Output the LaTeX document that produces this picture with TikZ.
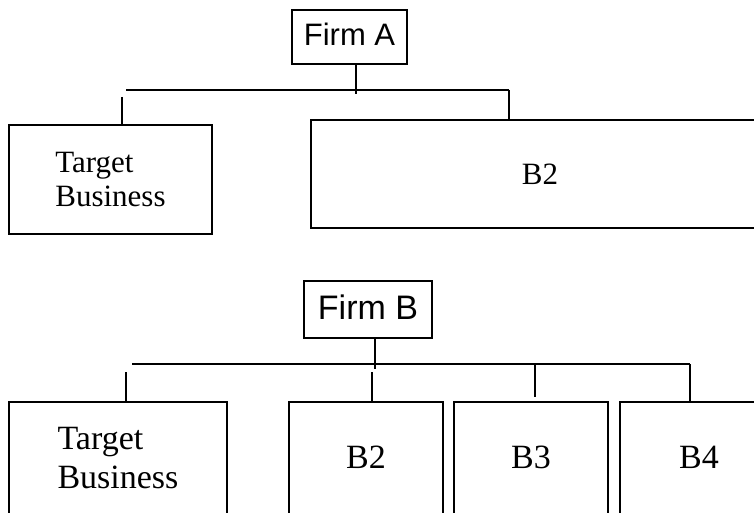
\documentclass[tikz,border=0pt]{standalone}
\usepackage{fontspec}
\setmainfont{Liberation Serif}
\newfontfamily\firmfont{Liberation Sans}
\usetikzlibrary{positioning,calc}

\begin{document}
\begin{tikzpicture}[x=1pt,y=-1pt]

\tikzstyle{cell} = [rectangle, draw=black, line width=2pt, inner sep=0pt, align=left]
\tikzstyle{firm} = [cell, font=\firmfont, text depth=6pt]
\tikzstyle{link} = [line width=2pt]

\useasboundingbox (0,0) rectangle (754,513);
\clip (0,0) rectangle (754,513);

%% ------------
%% -- FIRM A --
%% ------------

% boxes
\node (firm_a) [firm, minimum width=115pt, minimum height=54pt, font=\firmfont\fontsize{31}{36}\selectfont] at (349.5,37) {Firm A};
\node (target_a) [cell, minimum width=203pt, minimum height=109pt, font=\fontsize{31}{34}\selectfont] at (110.5,179.5) {Target\\Business};
\node (b2_a) [cell, minimum width=458pt, minimum height=108pt, font=\fontsize{31}{34}\selectfont] at (540,174) {B2};

% links
\coordinate (bar_a_left) at (126,90);
\coordinate (bar_a_right) at (508.7,90);
\coordinate (join_a) at (356,94);
\coordinate (drop_a) at (121.7,97);

\draw [link] (bar_a_left) -- (bar_a_right);
\draw [link] (join_a |- firm_a.south) -- (join_a);
\draw [link] (drop_a) -- (drop_a |- target_a.north);
\draw [link] (bar_a_right) -- (bar_a_right |- b2_a.north);

%% ------------
%% -- FIRM B --
%% ------------

% boxes
\node (firm_b) [firm, minimum width=128pt, minimum height=57pt, text depth=5pt, font=\firmfont\fontsize{34}{40}\selectfont] at (368,309.5) {Firm B};
\node (target_b) [cell, minimum width=218pt, minimum height=112pt, font=\fontsize{34}{39}\selectfont] at (118,457.7) {Target\\Business};
\node (b2_b) [cell, minimum width=154pt, minimum height=112pt, font=\fontsize{34}{39}\selectfont] at (366,457.7) {B2};
\node (b3_b) [cell, minimum width=154pt, minimum height=112pt, font=\fontsize{34}{39}\selectfont] at (531,457.7) {B3};
\node (b4_b) [cell, minimum width=158pt, minimum height=112pt, font=\fontsize{34}{39}\selectfont] at (699,457.7) {B4};

% links
\coordinate (bar_b_left) at (132,364);
\coordinate (bar_b_right) at (689.5,364);
\coordinate (join_b) at (375,369);
\coordinate (drop_b1) at (126,372);
\coordinate (drop_b2) at (372,372);
\coordinate (drop_b3) at (535,364);

\draw [link] (bar_b_left) -- (bar_b_right);
\draw [link] (join_b |- firm_b.south) -- (join_b);
\draw [link] (drop_b1) -- (drop_b1 |- target_b.north);
\draw [link] (drop_b2) -- (drop_b2 |- b2_b.north);
\draw [link] (drop_b3) -- ++(0,33);
\draw [link] (bar_b_right) -- (bar_b_right |- b4_b.north);

\end{tikzpicture}
\end{document}
